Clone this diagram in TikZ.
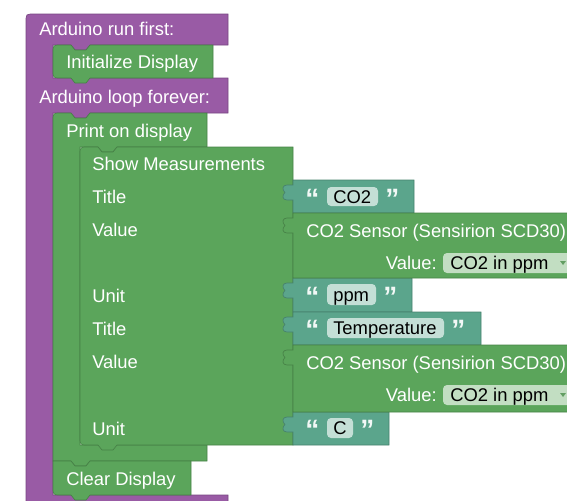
\documentclass[tikz,border=0pt]{standalone}
\usepackage{fontspec}
\setmainfont{Liberation Sans}
\definecolor{bpurple}{HTML}{995BA5}
\definecolor{bgreen}{HTML}{5BA55B}
\definecolor{bteal}{HTML}{5BA58C}
\definecolor{fteal}{HTML}{C4DFD6}
\definecolor{fgreen}{HTML}{C2DEC2}
\begin{document}
\begin{tikzpicture}[x=0.75pt,y=-0.75pt,
  lbl/.style={anchor=base west,inner sep=0pt,text=white,font=\fontsize{13.8}{16}\selectfont},
  ftxt/.style={anchor=base west,inner sep=0pt,text=black,font=\fontsize{13.8}{16}\selectfont},
  quot/.style={anchor=base west,inner sep=0pt,text=white!92!bteal,font=\fontsize{21}{24}\selectfont\bfseries},
  pblock/.style={fill=bpurple,draw=bpurple!78!black,line width=0.5pt},
  gblock/.style={fill=bgreen,draw=bgreen!78!black,line width=0.5pt},
  tblock/.style={fill=bteal,draw=bteal!78!black,line width=0.5pt},
  tfield/.style={fill=fteal,rounded corners=3pt},
  gfield/.style={fill=fgreen,rounded corners=3pt}]
\useasboundingbox (0,0) rectangle (567,500);
\clip (0,0) rectangle (567,500);
% purple main block
\path[pblock] (26,22) .. controls (26,14) .. (34,14) -- (228,14) -- (228,45)
  -- (90,45) -- (86,50) -- (75,50) -- (71,45) -- (53,45) -- (53,78) -- (228,78) -- (228,113)
  -- (90,113) -- (86,118) -- (75,118) -- (71,113) -- (53,113) -- (53,495) -- (228,495)
  -- (228,520) -- (26,520) -- cycle;
% Initialize Display
\path[gblock] (53,53) .. controls (53,45) .. (61,45) -- (71,45) -- (75,50) -- (86,50) -- (90,45)
  -- (213,45) -- (213,78) -- (90,78) -- (86,83) -- (75,83) -- (71,78) -- (61,78)
  .. controls (53,78) .. (53,70) -- cycle;
% Print on display
\path[gblock] (53,121) .. controls (53,113) .. (61,113) -- (71,113) -- (75,118) -- (86,118) -- (90,113)
  -- (207,113) -- (207,147) -- (117,147) -- (113,152) -- (102,152) -- (98,147) -- (80,147)
  -- (80,445) -- (207,445) -- (207,461) -- (90,461) -- (86,466) -- (75,466) -- (71,461)
  -- (53,461) -- cycle;
% Show Measurements
\path[gblock] (80,155) .. controls (80,147) .. (88,147) -- (98,147) -- (102,152) -- (113,152) -- (117,147)
  -- (293,147) -- (293,445) -- (117,445) -- (113,450) -- (102,450) -- (98,445) -- (88,445)
  .. controls (80,445) .. (80,437) -- cycle;
% Clear Display
\path[gblock] (53,461) -- (71,461) -- (75,466) -- (86,466) -- (90,461) -- (191,461) -- (191,495)
  -- (90,495) -- (86,500) -- (75,500) -- (71,495) -- (61,495) .. controls (53,495) .. (53,487) -- cycle;
% teal text blocks
\foreach \ya/\yb/\xr in {180/213/414, 278/312/412, 312/345/481, 412/445/389}{
  \path[tblock] (293,\ya) -- (\xr,\ya) -- (\xr,\yb) -- (293,\yb) -- (293,\ya+20)
    -- (287,\ya+20) .. controls (282,\ya+20) and (282,\ya+15) .. (285,\ya+12.5)
    .. controls (282,\ya+10) and (282,\ya+5) .. (287,\ya+5) -- (293,\ya+5) -- cycle;
}
% sensor blocks
\foreach \ya/\yb in {213/278, 345/412}{
  \path[gblock] (293,\ya) -- (590,\ya) -- (590,\yb) -- (293,\yb) -- (293,\ya+20)
    -- (287,\ya+20) .. controls (282,\ya+20) and (282,\ya+15) .. (285,\ya+12.5)
    .. controls (282,\ya+10) and (282,\ya+5) .. (287,\ya+5) -- (293,\ya+5) -- cycle;
}
% fields
\path[tfield] (327,187) rectangle (378,206);
\path[tfield] (327,284) rectangle (376,305);
\path[tfield] (327,318) rectangle (444,338);
\path[tfield] (327,418) rectangle (353,438);
\path[gfield] (443,253) rectangle (580,273);
\path[gfield] (443,385) rectangle (580,405);
\fill[bgreen!80!gray] (560,261) -- (566,261) -- (563,265) -- cycle;
\fill[bgreen!80!gray] (560,393) -- (566,393) -- (563,397) -- cycle;
% labels
\node[lbl] (l1) at (39,35) {Arduino run first:};
\node[lbl] (l2) at (66,68) {Initialize Display};
\node[lbl] (l3) at (39,103) {Arduino loop forever:};
\node[lbl] (l4) at (66,137) {Print on display};
\node[lbl] (l5) at (92,170) {Show Measurements};
\node[lbl] (l6) at (92,203) {Title};
\node[lbl] (l7) at (92,236) {Value};
\node[lbl] (l8) at (92,302) {Unit};
\node[lbl] (l9) at (92,335) {Title};
\node[lbl] (l10) at (92,368) {Value};
\node[lbl] (l11) at (92,435) {Unit};
\node[lbl] (l12) at (66,485) {Clear Display};
% teal texts
\node[quot] (q1a) at (305,208) {“};
\node[ftxt] (f1) at (333,203) {CO2};
\node[quot] (q1b) at (385,208) {”};
\node[quot] (q2a) at (305,306) {“};
\node[ftxt] (f2) at (333,301) {ppm};
\node[quot] (q2b) at (383,306) {”};
\node[quot] (q3a) at (305,339) {“};
\node[ftxt] (f3) at (333,334) {Temperature};
\node[quot] (q3b) at (451,339) {”};
\node[quot] (q4a) at (305,439) {“};
\node[ftxt] (f4) at (333,434) {C};
\node[quot] (q4b) at (360,439) {”};
% sensor texts
\node[lbl] (s1) at (306,237) {CO2 Sensor (Sensirion SCD30)};
\node[lbl,anchor=base east] (s1v) at (437,269) {Value:};
\node[ftxt] (s1d) at (450,269) {CO2 in ppm};
\node[lbl] (s2) at (306,369) {CO2 Sensor (Sensirion SCD30)};
\node[lbl,anchor=base east] (s2v) at (437,401) {Value:};
\node[ftxt] (s2d) at (450,401) {CO2 in ppm};
\end{tikzpicture}
\end{document}
